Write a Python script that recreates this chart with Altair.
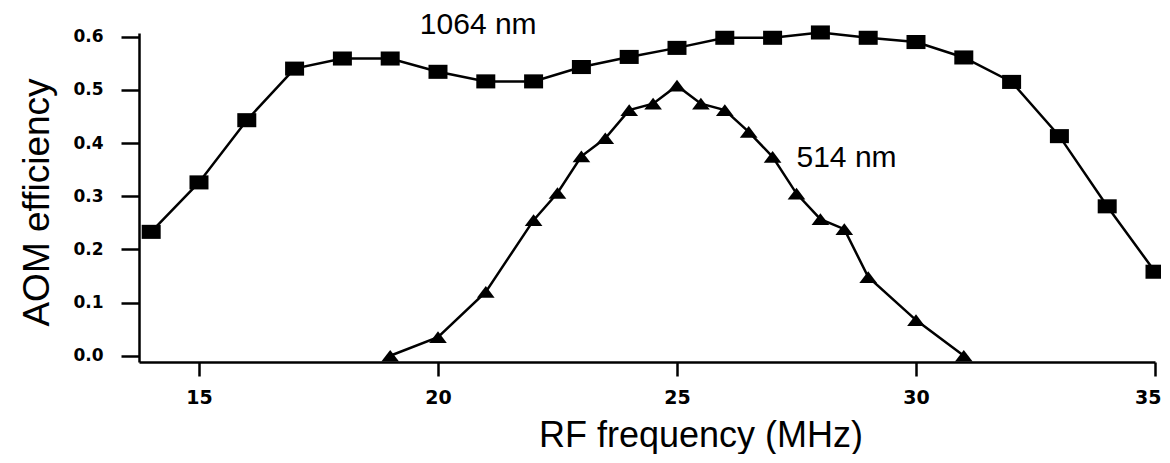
import altair as alt
import pandas as pd

# 1064 nm series (squares)
freq_1064 = [14, 15, 16, 17, 18, 19, 20, 21, 22, 23, 24, 25, 26, 27, 28, 29, 30, 31, 32, 33, 34, 35]
eff_1064 = [0.233, 0.326, 0.443, 0.540, 0.559, 0.559, 0.534, 0.516, 0.516, 0.543, 0.562, 0.579,
            0.598, 0.598, 0.608, 0.598, 0.590, 0.561, 0.515, 0.413, 0.281, 0.158]

# 514 nm series (triangles)
freq_514 = [19, 20, 21, 22, 22.5, 23, 23.5, 24, 24.5, 25, 25.5, 26, 26.5, 27, 27.5, 28, 28.5, 29, 30, 31]
eff_514 = [0.0, 0.035, 0.12, 0.255, 0.306, 0.375, 0.409, 0.462, 0.474, 0.508, 0.474, 0.462,
           0.421, 0.374, 0.305, 0.257, 0.238, 0.148, 0.067, 0.0]

# annotations
ann_text = ["1064 nm", "514 nm"]
ann_x = [19.62, 27.50]
ann_y = [0.606, 0.3555]

x_ticks = [15, 20, 25, 30, 35]
y_ticks = [0.0, 0.1, 0.2, 0.3, 0.4, 0.5, 0.6]

df1 = pd.DataFrame({"f": freq_1064, "e": eff_1064})
df2 = pd.DataFrame({"f": freq_514, "e": eff_514})
dfa = pd.DataFrame({"f": ann_x, "e": ann_y, "t": ann_text})

TITLE_FONT = "Liberation Sans"
TICK_FONT = "DejaVu Sans"

xscale = alt.Scale(domain=[13.745, 35], nice=False, zero=False)
yscale = alt.Scale(domain=[-0.0118, 0.607], nice=False, zero=False)

xaxis = alt.Axis(
    values=x_ticks, format="d", title="RF frequency (MHz)",
    titleFont=TITLE_FONT, titleFontSize=36, titleFontWeight="normal", titleColor="black",
    titleX=561.5, titleY=84, titleBaseline="alphabetic", titleAlign="center",
    labelFont=TICK_FONT, labelFontSize=19, labelFontWeight="bold", labelColor="black", labelPadding=12,
    tickSize=14, tickWidth=2.5, tickColor="black",
    domainColor="black", domainWidth=2.5, grid=False, labelFlush=1, labelFlushOffset=6,
)
yaxis = alt.Axis(
    values=y_ticks, format=".1f", title="AOM efficiency",
    titleFont=TITLE_FONT, titleFontSize=37, titleFontWeight="normal", titleColor="black",
    titleX=-91, titleY=169, titleBaseline="alphabetic", titleAlign="center", titleAngle=270,
    labelFont=TICK_FONT, labelFontSize=17, labelFontWeight="bold", labelColor="black", labelPadding=18,
    tickSize=18, tickWidth=2.5, tickColor="black",
    domainColor="black", domainWidth=2.5, grid=False,
)

X = alt.X("f:Q", scale=xscale, axis=xaxis)
Y = alt.Y("e:Q", scale=yscale, axis=yaxis)

square_path = "M-1,-0.74L1,-0.74L1,0.74L-1,0.74Z"
tri_path = "M0,-0.66L1,0.66L-1,0.66Z"

line1 = alt.Chart(df1).mark_line(color="black", strokeWidth=2.5).encode(x=X, y=Y)
pts1 = alt.Chart(df1).mark_point(shape=square_path, filled=True, size=361, color="black", opacity=1).encode(x="f:Q", y="e:Q")
line2 = alt.Chart(df2).mark_line(color="black", strokeWidth=2.5).encode(x="f:Q", y="e:Q")
pts2 = alt.Chart(df2).mark_point(shape=tri_path, filled=True, size=313, color="black", opacity=1).encode(x="f:Q", y="e:Q")
txt = alt.Chart(dfa).mark_text(align="left", baseline="alphabetic", font=TITLE_FONT, fontSize=30, color="black").encode(
    x="f:Q", y="e:Q", text="t:N")

chart = (
    alt.layer(line1, line2, pts1, pts2, txt)
    .properties(
        width=1016, height=329,
        autosize=alt.AutoSizeParams(type="none"),
        padding={"left": 131, "top": 25, "right": 6, "bottom": 92},
        background="white",
    )
    .configure_view(stroke=None)
)

chart.save("out.html", embed_options={"renderer": "svg", "actions": False})
